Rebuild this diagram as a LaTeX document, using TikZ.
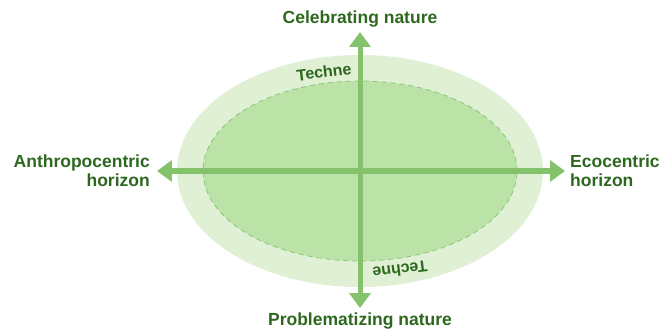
\documentclass[tikz,border=0pt]{standalone}
\usepackage{fontspec}
\setmainfont{Liberation Sans}
\usetikzlibrary{arrows.meta,positioning}
\definecolor{outergreen}{HTML}{DFF0D4}
\definecolor{innergreen}{HTML}{BCE3A7}
\definecolor{dashgreen}{HTML}{8CC47A}
\definecolor{axisgreen}{HTML}{84C26C}
\definecolor{textgreen}{HTML}{2D681E}
\tikzset{%
  axis/.style     = {draw=axisgreen, line width=5pt,
    {Triangle[width=21pt,length=15pt]}-{Triangle[width=21pt,length=15pt]}},
  pole/.style     = {font=\bfseries\fontsize{17.5}{19}\selectfont, text=textgreen,
    inner sep=0pt}, % Axis label
  techne/.style   = {font=\bfseries\fontsize{16}{18}\selectfont, text=textgreen,
    inner sep=0pt}, % Ring label
  tip/.style      = {coordinate} % Arrow end
}
\begin{document}
\begin{tikzpicture}[x=1pt, y=1pt]
\useasboundingbox (-360,-158) rectangle (308,171);
	% Rings of techne :
	\fill[outergreen] (0,0) ellipse [x radius=183, y radius=116];
	\draw[dashgreen, thick, dash pattern=on 5pt off 4pt, fill=innergreen]
		(0,0) ellipse [x radius=157, y radius=90];
\draw
	node[techne, rotate=7] (techneT) at (-36,99) {Techne}
	node[techne, rotate=187] (techneB) at (40,-99) {Techne}
;
	% Arrow ends
\draw
	node at (0,139) [tip, name=up] {}
	node at (0,-137) [tip, name=down] {}
	node at (-203,0) [tip, name=west] {}
	node at (205,0) [tip, name=east] {}
;
	% Joining the ends
	\draw[axis] (down) -- (up);
	\draw[axis] (west) -- (east);
	% Labels of the poles
\draw
	node[pole, above=5pt of up] (celeb) {Celebrating nature}
	node[pole, below=5pt of down] (probl) {Problematizing nature}
	node[pole, left=7pt of west, align=right] (anthro) {Anthropocentric\\horizon}
	node[pole, right=5pt of east, align=left] (eco) {Ecocentric\\horizon}
;
\end{tikzpicture}
\end{document}
